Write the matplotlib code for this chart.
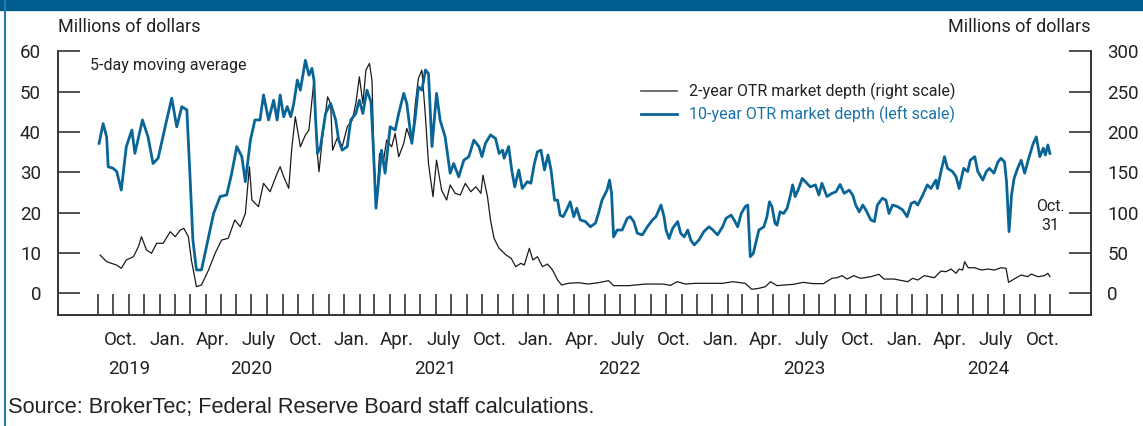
import pandas as pd
import matplotlib
matplotlib.use("Agg")
import matplotlib.pyplot as plt
import matplotlib.dates as mdates
from matplotlib.ticker import FixedLocator, NullFormatter
from matplotlib.patches import Rectangle
from matplotlib.lines import Line2D

# 10-year OTR market depth, millions of dollars (left scale)
ten_dates = [
    "2019-09-03", "2019-09-11", "2019-09-18", "2019-09-21", "2019-10-01", "2019-10-08",
    "2019-10-17", "2019-10-27", "2019-11-07", "2019-11-13", "2019-11-28", "2019-12-09",
    "2019-12-19", "2019-12-29", "2020-01-12", "2020-01-25", "2020-02-04", "2020-02-14",
    "2020-02-24", "2020-03-01", "2020-03-07", "2020-03-14", "2020-03-24", "2020-04-03",
    "2020-04-17", "2020-04-30", "2020-05-13", "2020-05-23", "2020-06-02", "2020-06-12",
    "2020-06-19", "2020-06-29", "2020-07-08", "2020-07-18", "2020-07-25", "2020-08-04",
    "2020-08-14", "2020-08-21", "2020-08-27", "2020-09-03", "2020-09-10", "2020-09-17",
    "2020-09-23", "2020-09-30", "2020-10-06", "2020-10-16", "2020-10-23", "2020-10-29",
    "2020-11-02", "2020-11-05", "2020-11-09", "2020-11-15", "2020-11-19", "2020-11-25",
    "2020-12-05", "2020-12-15", "2020-12-21", "2020-12-28", "2021-01-07", "2021-01-14",
    "2021-01-24", "2021-01-31", "2021-02-07", "2021-02-15", "2021-02-23", "2021-02-27",
    "2021-03-05", "2021-03-11", "2021-03-16", "2021-03-23", "2021-04-02", "2021-04-12",
    "2021-04-19", "2021-04-29", "2021-05-05", "2021-05-15", "2021-05-22", "2021-05-28",
    "2021-06-04", "2021-06-11", "2021-06-17", "2021-06-24", "2021-07-03", "2021-07-10",
    "2021-07-20", "2021-07-30", "2021-08-06", "2021-08-16", "2021-08-26", "2021-09-05",
    "2021-09-15", "2021-09-25", "2021-10-01", "2021-10-08", "2021-10-18", "2021-10-28",
    "2021-11-04", "2021-11-11", "2021-11-14", "2021-11-23", "2021-11-29", "2021-12-05",
    "2021-12-13", "2021-12-20", "2021-12-30", "2022-01-06", "2022-01-13", "2022-01-19",
    "2022-01-26", "2022-02-02", "2022-02-09", "2022-02-15", "2022-02-22", "2022-02-28",
    "2022-03-05", "2022-03-11", "2022-03-18", "2022-03-25", "2022-04-01", "2022-04-07",
    "2022-04-14", "2022-04-24", "2022-05-04", "2022-05-14", "2022-05-20", "2022-05-27",
    "2022-06-06", "2022-06-11", "2022-06-15", "2022-06-19", "2022-06-26", "2022-07-06",
    "2022-07-12", "2022-07-16", "2022-07-22", "2022-07-29", "2022-08-05", "2022-08-15",
    "2022-08-25", "2022-09-04", "2022-09-11", "2022-09-21", "2022-09-27", "2022-10-01",
    "2022-10-07", "2022-10-14", "2022-10-24", "2022-10-30", "2022-11-06", "2022-11-13",
    "2022-11-19", "2022-11-26", "2022-12-05", "2022-12-15", "2022-12-25", "2023-01-02",
    "2023-01-11", "2023-01-21", "2023-01-28", "2023-02-07", "2023-02-13", "2023-02-20",
    "2023-02-27", "2023-03-07", "2023-03-12", "2023-03-17", "2023-03-23", "2023-04-03",
    "2023-04-13", "2023-04-19", "2023-04-24", "2023-04-29", "2023-05-05", "2023-05-09",
    "2023-05-15", "2023-05-22", "2023-05-29", "2023-06-04", "2023-06-09", "2023-06-14",
    "2023-06-21", "2023-06-28", "2023-07-07", "2023-07-14", "2023-07-24", "2023-07-31",
    "2023-08-06", "2023-08-16", "2023-08-26", "2023-09-03", "2023-09-11", "2023-09-19",
    "2023-09-29", "2023-10-06", "2023-10-12", "2023-10-19", "2023-10-26", "2023-11-01",
    "2023-11-11", "2023-11-18", "2023-11-24", "2023-12-04", "2023-12-11", "2023-12-17",
    "2023-12-24", "2024-01-03", "2024-01-13", "2024-01-22", "2024-01-30", "2024-02-06",
    "2024-02-12", "2024-02-22", "2024-03-02", "2024-03-09", "2024-03-19", "2024-03-22",
    "2024-03-29", "2024-04-05", "2024-04-11", "2024-04-21", "2024-04-28", "2024-05-04",
    "2024-05-13", "2024-05-21", "2024-05-26", "2024-06-04", "2024-06-10", "2024-06-20",
    "2024-06-27", "2024-07-03", "2024-07-12", "2024-07-20", "2024-07-26", "2024-08-02",
    "2024-08-06", "2024-08-11", "2024-08-16", "2024-08-21", "2024-08-28", "2024-09-04",
    "2024-09-11", "2024-09-19", "2024-09-28", "2024-10-04", "2024-10-11", "2024-10-18",
    "2024-10-22", "2024-10-27", "2024-10-31",
]
ten_year = [
    37.2, 42.1, 38.8, 31.4, 31.0, 30.2,
    25.6, 36.4, 40.5, 34.7, 43.0, 38.8,
    32.2, 33.5, 41.3, 48.4, 41.3, 46.3,
    45.5, 29.8, 13.2, 5.8, 5.8, 11.6,
    19.8, 24.0, 24.4, 29.8, 36.4, 33.9,
    27.7, 38.0, 43.0, 43.0, 49.2, 43.0,
    47.9, 43.0, 49.2, 43.8, 46.3, 43.8,
    47.1, 52.9, 50.4, 57.8, 54.1, 55.8,
    52.9, 43.8, 34.7, 36.4, 39.7, 44.6,
    47.1, 43.0, 38.0, 35.5, 36.4, 43.0,
    44.6, 47.9, 44.6, 50.4, 47.5, 38.0,
    21.1, 28.9, 35.5, 29.8, 41.3, 40.5,
    44.6, 49.6, 47.1, 37.2, 43.8, 51.2,
    50.4, 55.4, 54.5, 36.4, 49.6, 43.0,
    38.8, 29.8, 32.2, 28.9, 33.0, 33.9,
    38.0, 36.4, 33.9, 37.2, 39.3, 38.4,
    34.7, 35.5, 33.5, 36.4, 30.6, 26.4,
    30.6, 26.0, 27.7, 27.3, 32.2, 35.1,
    35.5, 30.6, 34.3, 30.6, 23.1, 23.1,
    19.4, 19.0, 20.7, 22.7, 19.0, 21.1,
    18.2, 17.8, 16.5, 17.4, 19.8, 23.1,
    25.6, 28.1, 24.8, 14.0, 15.7, 15.7,
    17.4, 18.6, 19.0, 17.8, 14.9, 14.5,
    16.5, 18.2, 19.0, 21.9, 19.0, 15.7,
    13.6, 16.1, 17.8, 14.9, 14.0, 15.7,
    13.2, 12.0, 13.2, 15.3, 16.5, 15.7,
    14.5, 16.5, 18.6, 19.4, 18.2, 16.5,
    19.8, 21.5, 21.9, 9.1, 9.9, 15.7,
    16.5, 19.0, 22.7, 21.5, 17.4, 16.9,
    20.2, 19.8, 21.1, 24.0, 26.9, 24.0,
    26.0, 28.5, 27.3, 26.4, 26.9, 24.4,
    27.3, 24.0, 24.8, 25.2, 27.0, 24.8,
    25.6, 24.4, 21.9, 20.2, 21.9, 20.7,
    18.2, 17.8, 21.9, 23.6, 23.1, 19.8,
    21.9, 21.5, 20.7, 19.0, 22.3, 22.7,
    21.9, 24.4, 26.9, 26.0, 28.1, 26.0,
    30.2, 33.9, 31.0, 30.2, 28.9, 26.0,
    31.0, 30.2, 33.0, 33.9, 30.2, 28.1,
    30.2, 31.0, 29.8, 32.6, 33.5, 32.6,
    27.7, 15.3, 24.4, 28.5, 31.0, 33.0,
    29.8, 33.5, 37.2, 38.8, 33.9, 36.0,
    34.3, 36.8, 34.7,
]

# 2-year OTR market depth, millions of dollars (right scale)
two_dates = [
    "2019-09-05", "2019-09-18", "2019-10-08", "2019-10-17", "2019-10-27", "2019-11-10",
    "2019-11-20", "2019-11-26", "2019-12-06", "2019-12-16", "2019-12-26", "2020-01-08",
    "2020-01-22", "2020-02-01", "2020-02-11", "2020-02-18", "2020-02-27", "2020-03-04",
    "2020-03-14", "2020-03-24", "2020-04-07", "2020-04-20", "2020-05-03", "2020-05-16",
    "2020-05-29", "2020-06-09", "2020-06-19", "2020-06-27", "2020-07-02", "2020-07-15",
    "2020-07-25", "2020-08-07", "2020-08-21", "2020-08-27", "2020-09-03", "2020-09-13",
    "2020-09-19", "2020-09-26", "2020-10-06", "2020-10-16", "2020-10-23", "2020-11-02",
    "2020-11-08", "2020-11-12", "2020-11-19", "2020-11-29", "2020-12-05", "2020-12-09",
    "2020-12-19", "2020-12-28", "2021-01-07", "2021-01-17", "2021-01-24", "2021-01-31",
    "2021-02-07", "2021-02-13", "2021-02-20", "2021-02-25", "2021-03-01", "2021-03-06",
    "2021-03-12", "2021-03-19", "2021-03-26", "2021-04-05", "2021-04-12", "2021-04-19",
    "2021-04-29", "2021-05-05", "2021-05-15", "2021-05-22", "2021-05-28", "2021-06-04",
    "2021-06-11", "2021-06-17", "2021-06-26", "2021-07-03", "2021-07-13", "2021-07-23",
    "2021-07-30", "2021-08-09", "2021-08-19", "2021-08-29", "2021-09-09", "2021-09-19",
    "2021-09-29", "2021-10-03", "2021-10-12", "2021-10-18", "2021-10-25", "2021-11-04",
    "2021-11-18", "2021-11-28", "2021-12-07", "2021-12-17", "2021-12-24", "2022-01-03",
    "2022-01-10", "2022-01-19", "2022-01-29", "2022-02-08", "2022-02-18", "2022-02-28",
    "2022-03-08", "2022-03-21", "2022-04-10", "2022-04-30", "2022-05-20", "2022-06-09",
    "2022-06-19", "2022-07-19", "2022-08-21", "2022-09-24", "2022-10-10", "2022-10-23",
    "2022-11-09", "2022-11-29", "2022-12-25", "2023-01-21", "2023-02-10", "2023-03-07",
    "2023-03-20", "2023-04-03", "2023-04-16", "2023-04-26", "2023-05-09", "2023-05-22",
    "2023-06-10", "2023-06-30", "2023-07-20", "2023-08-09", "2023-08-26", "2023-09-05",
    "2023-09-15", "2023-09-25", "2023-10-08", "2023-10-22", "2023-11-11", "2023-11-27",
    "2023-12-07", "2023-12-27", "2024-01-23", "2024-02-02", "2024-02-12", "2024-02-25",
    "2024-03-16", "2024-03-29", "2024-04-08", "2024-04-18", "2024-04-28", "2024-05-04",
    "2024-05-11", "2024-05-15", "2024-05-22", "2024-06-04", "2024-06-17", "2024-06-30",
    "2024-07-13", "2024-07-26", "2024-08-05", "2024-08-10", "2024-08-21", "2024-09-04",
    "2024-09-17", "2024-09-24", "2024-10-07", "2024-10-20", "2024-10-27", "2024-10-31",
]
two_year = [
    47.5, 39.2, 35.0, 31.0, 41.3, 45.4,
    57.8, 70.2, 53.7, 49.6, 62.0, 62.0,
    76.4, 70.2, 78.5, 80.6, 70.2, 41.3,
    8.2, 10.3, 28.9, 49.6, 66.1, 68.2,
    90.9, 82.6, 99.2, 157.0, 115.7, 107.4,
    136.4, 126.0, 148.8, 157.0, 144.6, 130.2,
    179.8, 219.0, 181.7, 196.2, 202.4, 264.4,
    177.6, 150.7, 194.1, 243.7, 235.5, 177.6,
    194.1, 181.7, 206.5, 214.8, 235.5, 268.5,
    235.5, 276.8, 285.1, 264.4, 165.2, 111.6,
    173.5, 161.2, 190.0, 181.7, 198.3, 169.3,
    186.0, 204.5, 186.0, 235.5, 266.5, 276.8,
    219.0, 161.2, 119.8, 165.2, 128.1, 115.7,
    134.3, 124.0, 121.9, 136.4, 126.0, 132.2,
    124.0, 146.6, 119.8, 90.9, 68.2, 55.8,
    47.5, 43.4, 33.0, 37.2, 35.1, 55.8,
    41.3, 45.4, 33.0, 36.3, 28.9, 16.5,
    10.3, 12.4, 13.2, 11.5, 13.2, 15.7,
    9.5, 9.5, 11.5, 11.5, 9.9, 14.4,
    11.5, 12.4, 12.4, 12.4, 14.4, 12.4,
    5.0, 6.2, 8.2, 14.4, 9.5, 10.3,
    11.1, 13.6, 12.0, 12.0, 18.6, 19.4,
    21.9, 17.7, 21.9, 18.6, 20.6, 23.6,
    17.7, 17.7, 14.4, 18.6, 16.5, 21.9,
    19.4, 27.6, 26.8, 30.1, 24.8, 30.1,
    28.9, 39.2, 31.7, 31.7, 28.9, 30.1,
    28.9, 31.7, 31.0, 13.6, 17.7, 22.7,
    20.6, 23.9, 20.6, 21.9, 24.8, 20.6,
]

month_labels = ["Oct.", "Jan.", "Apr.", "July"]
year_labels = ["2019", "2020", "2021", "2022", "2023", "2024"]
year_centers = ["2019-11-01", "2020-07-01", "2021-07-01", "2022-07-01", "2023-07-01", "2024-07-01"]

blue = "#0a6597"
dark = "#333333"
txt = "#222222"
plt.rcParams["font.family"] = ["Roboto", "DejaVu Sans"]

fig = plt.figure(figsize=(11.43, 4.26), dpi=100)
ax = fig.add_axes([0.0505, 0.2613, 0.9038, 0.618])
ax2 = ax.twinx()

ax.plot(pd.to_datetime(ten_dates), ten_year, color=blue, lw=2.0, zorder=3)
ax2.plot(pd.to_datetime(two_dates), two_year, color="#1a1a1a", lw=0.9, zorder=2)
ax.set_zorder(ax2.get_zorder() + 1)
ax.patch.set_visible(False)

ax.set_ylim(-5.3, 60)
ax2.set_ylim(-26.5, 300)
ax.set_xlim(pd.Timestamp("2019-06-13"), pd.Timestamp("2025-01-20"))

for a in (ax, ax2):
    a.spines["top"].set_visible(False)
    for s in ("left", "right", "bottom"):
        a.spines[s].set_color(dark)
        a.spines[s].set_linewidth(1.2)

ax.set_yticks([0, 10, 20, 30, 40, 50, 60])
ax2.set_yticks([0, 50, 100, 150, 200, 250, 300])
ax.yaxis.set_minor_locator(FixedLocator([60]))
ax2.yaxis.set_minor_locator(FixedLocator([300]))
for a in (ax, ax2):
    a.tick_params(axis="y", which="major", direction="in", length=16, width=1.2,
                  color=dark, labelsize=13.5, labelcolor=txt, pad=12)
    a.tick_params(axis="y", which="minor", direction="in", length=32, width=1.2, color=dark)

# month labels at mid-month, ticks at the start of every month
lab_dates = list(pd.date_range("2019-10-01", "2024-10-01", freq="3MS"))
ax.set_xticks([d + pd.Timedelta(days=15) for d in lab_dates])
ax.set_xticklabels([month_labels[i % 4] for i in range(len(lab_dates))])
ax.xaxis.set_minor_locator(FixedLocator(mdates.date2num(pd.date_range("2019-09-01", "2024-11-01", freq="MS"))))
ax.xaxis.set_minor_formatter(NullFormatter())
ax.tick_params(axis="x", which="major", length=0, labelsize=13.5, labelcolor=txt, pad=12)
ax.tick_params(axis="x", which="minor", direction="in", length=15, width=1.2, color=dark)

for yl, yc in zip(year_labels, year_centers):
    ax.annotate(yl, xy=(mdates.date2num(pd.Timestamp(yc)), 0), xycoords=("data", "axes fraction"),
                xytext=(0, -39), textcoords="offset points", ha="center", va="center",
                fontsize=13.5, color=txt)

ax.text(0.0, 1.06, "Millions of dollars", transform=ax.transAxes, ha="left", va="bottom",
        fontsize=13, color=txt)
ax.text(1.0, 1.06, "Millions of dollars", transform=ax.transAxes, ha="right", va="bottom",
        fontsize=13, color=txt)
ax.text(0.0313, 0.945, "5-day moving average", transform=ax.transAxes, ha="left", va="center",
        fontsize=11.5, color=txt)
ax.text(pd.Timestamp("2024-11-01"), 19.2, "Oct.\n31", ha="center", va="center",
        fontsize=11.5, color=txt, linespacing=1.3)

handles = [Line2D([], [], color="#555555", lw=1.2), Line2D([], [], color=blue, lw=2.0)]
leg = ax.legend(handles, ["2-year OTR market depth (right scale)", "10-year OTR market depth (left scale)"],
                loc="upper left", bbox_to_anchor=(0.5565, 0.91), frameon=False, fontsize=11.5,
                handlelength=2.3, handletextpad=0.75, labelspacing=0.35, borderpad=0)
leg.get_texts()[0].set_color(txt)
leg.get_texts()[1].set_color("#1a72a6")

fig.text(8 / 1143, 1 - 408 / 426, "Source: BrokerTec; Federal Reserve Board staff calculations.",
         ha="left", va="center", fontsize=15.7, family=["Liberation Sans", "DejaVu Sans"], color=txt)

fig.add_artist(Rectangle((0, 1 - 10 / 426), 1, 10 / 426, transform=fig.transFigure,
                         color="#005e8f", zorder=10))
fig.add_artist(Line2D([5 / 1143, 5 / 1143], [0, 1], transform=fig.transFigure,
                      color="#2b78aa", lw=1.5, zorder=10))

fig.savefig("out.png", dpi=100)
